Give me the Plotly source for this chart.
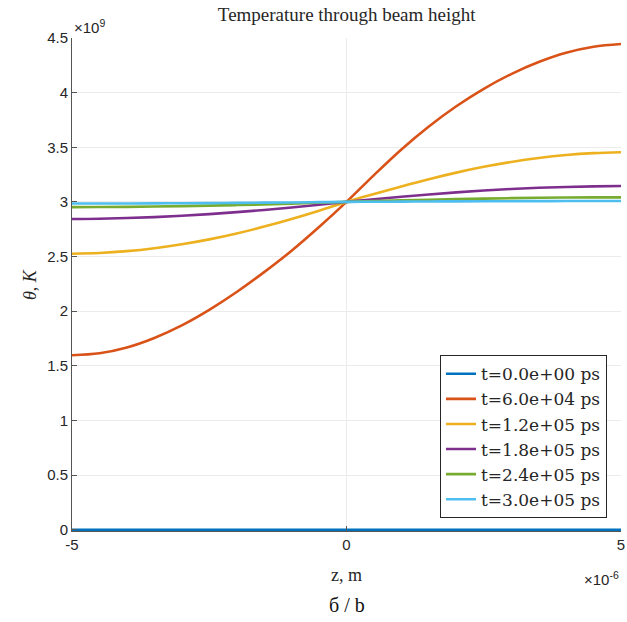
import plotly.graph_objects as go

# z positions (units of 1e-6 m)
z_um = [-5, -4.5, -4, -3.5, -3, -2.5, -2, -1.5, -1, -0.5, 0,
        0.5, 1, 1.5, 2, 2.5, 3, 3.5, 4, 4.5, 5]

# temperature (units of 1e9 K)
theta_t0 = [0] * 21
theta_t1 = [1.597, 1.615, 1.668, 1.755, 1.870, 2.012, 2.175, 2.357, 2.553, 2.770, 3.000,
            3.245, 3.480, 3.690, 3.875, 4.035, 4.170, 4.280, 4.365, 4.420, 4.445]
theta_t2 = [2.526, 2.532, 2.549, 2.576, 2.612, 2.657, 2.711, 2.774, 2.844, 2.920, 3.000,
            3.072, 3.142, 3.208, 3.268, 3.321, 3.366, 3.402, 3.429, 3.446, 3.454]
theta_t3 = [2.844, 2.846, 2.852, 2.861, 2.873, 2.888, 2.906, 2.926, 2.949, 2.974, 3.000,
            3.024, 3.047, 3.068, 3.087, 3.104, 3.118, 3.129, 3.137, 3.142, 3.145]
theta_t4 = [2.9523, 2.9529, 2.9546, 2.9573, 2.9609, 2.9655, 2.9710, 2.9773, 2.9843, 2.9920, 3.000,
            3.0070, 3.0137, 3.0198, 3.0253, 3.0301, 3.0341, 3.0373, 3.0396, 3.0411, 3.0417]
theta_t5 = [2.9850, 2.9852, 2.9857, 2.9866, 2.9877, 2.9890, 2.9910, 2.9929, 2.9950, 2.9975, 3.000,
            3.0013, 3.0026, 3.0038, 3.0049, 3.0058, 3.0066, 3.0072, 3.0076, 3.0079, 3.0080]

labels = ["t=0.0e+00 ps", "t=6.0e+04 ps", "t=1.2e+05 ps",
          "t=1.8e+05 ps", "t=2.4e+05 ps", "t=3.0e+05 ps"]
colors = ["#0072BD", "#D95319", "#EDB120", "#7E2F8E", "#77AC30", "#4DBEEE"]
series = [theta_t0, theta_t1, theta_t2, theta_t3, theta_t4, theta_t5]

x_ticks = [-5, 0, 5]
x_ticktext = ["-5", "0", "5"]
y_ticks = [0, 0.5, 1, 1.5, 2, 2.5, 3, 3.5, 4, 4.5]
y_ticktext = ["0", "0.5", "1", "1.5", "2", "2.5", "3", "3.5", "4", "4.5"]

serif = "Liberation Serif, DejaVu Serif, serif"
lserif = "DejaVu Serif, serif"
sans = "Liberation Sans, Arial, sans-serif"
ink = "#262626"

fig = go.Figure()
for lab, col, ys in zip(labels, colors, series):
    fig.add_trace(go.Scatter(x=z_um, y=ys, mode="lines", name=lab,
                             line=dict(color=col, width=2.6, shape="spline", smoothing=1.0)))

fig.update_layout(
    width=627, height=622,
    margin=dict(l=72, r=6, t=38, b=91),
    paper_bgcolor="white", plot_bgcolor="white",
    showlegend=True,
    legend=dict(x=0.9745, y=0.026, xanchor="right", yanchor="bottom",
                bordercolor=ink, borderwidth=1, bgcolor="white",
                font=dict(family=lserif, size=17, color=ink),
                tracegroupgap=0, itemwidth=30),
    title=dict(text="Temperature through beam height", x=0.553, xanchor="center",
               y=0.977, yanchor="middle",
               font=dict(family=serif, size=19, color=ink)),
    xaxis=dict(range=[-5, 5], tickvals=x_ticks, ticktext=x_ticktext,
               automargin=False,
               showgrid=True, gridcolor="#EBEBEB", gridwidth=1,
               zeroline=False, showline=True, linecolor="#555555", linewidth=1,
               ticks="inside", ticklen=5, tickcolor="#555555",
               tickfont=dict(family=sans, size=15, color=ink)),
    yaxis=dict(range=[-0.012, 4.5], tickvals=y_ticks, ticktext=y_ticktext,
               automargin=False,
               showgrid=True, gridcolor="#EBEBEB", gridwidth=1,
               zeroline=False, showline=True, linecolor="#555555", linewidth=1,
               ticks="inside", ticklen=5, tickcolor="#555555",
               tickfont=dict(family=sans, size=15, color=ink)),
)

fig.add_annotation(text="z, m", xref="paper", yref="paper", x=0.5, y=-0.089,
                   xanchor="center", yanchor="middle", showarrow=False,
                   font=dict(family=serif, size=18, color=ink))
fig.add_annotation(text="<i>θ</i>, <i>K</i>", xref="paper", yref="paper", x=-0.0765, y=0.499,
                   xanchor="center", yanchor="middle", showarrow=False, textangle=-90,
                   font=dict(family=serif, size=18, color=ink))
fig.add_annotation(text="×10<sup>9</sup>", xref="paper", yref="paper", x=0.0, y=1.0,
                   xanchor="left", yanchor="bottom", showarrow=False,
                   font=dict(family=sans, size=15, color=ink))
fig.add_annotation(text="×10<sup>-6</sup>", xref="paper", yref="paper", x=1.0, y=-0.097,
                   xanchor="right", yanchor="middle", showarrow=False,
                   font=dict(family=sans, size=15, color=ink))
fig.add_annotation(text="б / b", xref="paper", yref="paper", x=0.5, y=-0.150,
                   xanchor="center", yanchor="middle", showarrow=False,
                   font=dict(family=serif, size=20, color="#111111"))

fig.write_html("out.html")
